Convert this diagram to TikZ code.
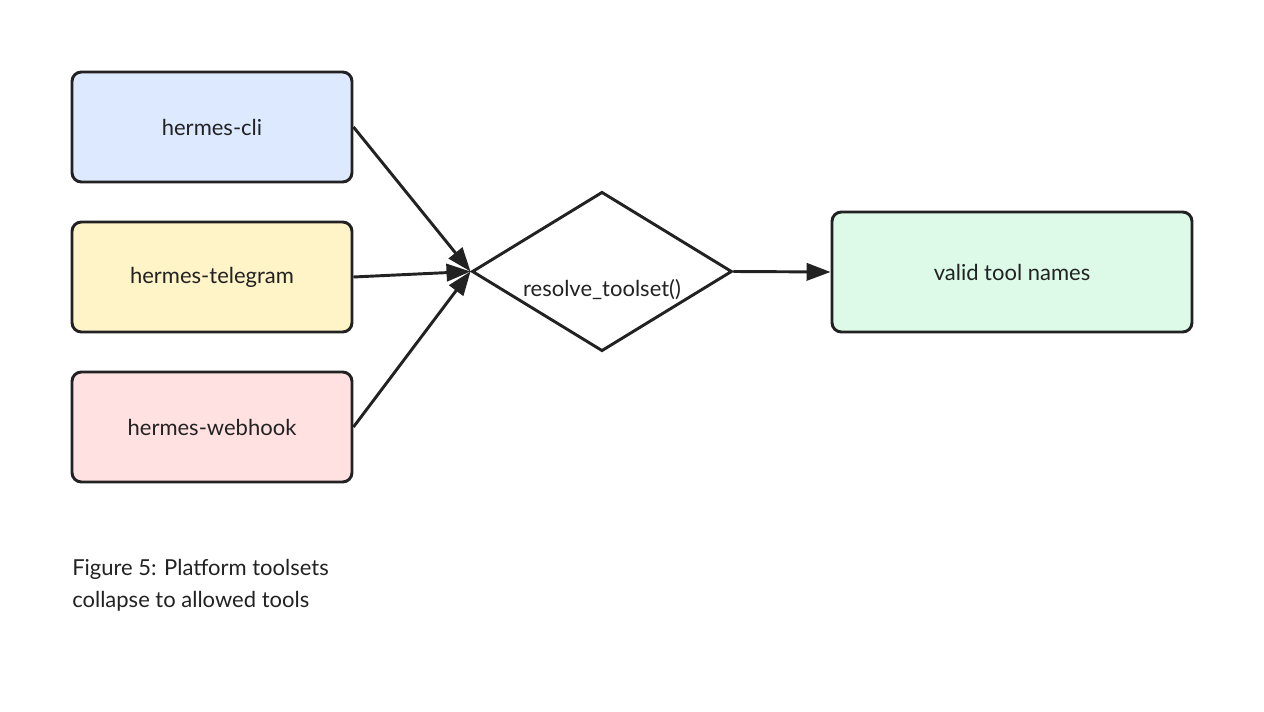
\documentclass[tikz,border=0pt]{standalone}
\usepackage{fontspec}
\setmainfont{Lato}
\usetikzlibrary{shapes.geometric,arrows.meta}
\definecolor{ink}{HTML}{222222}
\definecolor{cliblue}{HTML}{DCE9FF}
\definecolor{tgyellow}{HTML}{FFF3C8}
\definecolor{whpink}{HTML}{FFE1E2}
\definecolor{okgreen}{HTML}{DCFAE7}
\begin{document}
\begin{tikzpicture}[x=0.75pt,y=-0.75pt,
  srcbox/.style={draw=ink,line width=2.2pt,rounded corners=7pt,minimum width=210pt,minimum height=82.5pt,inner sep=0pt,font=\fontsize{16.5}{20}\selectfont,text=ink},
  flow/.style={draw=ink,line width=2.2pt,-{Triangle[length=18pt,width=13pt]}},
  lbl/.style={font=\fontsize{16.5}{24}\selectfont,text=ink}]
\useasboundingbox[fill=white] (0,0) rectangle (1264,712);
\node[srcbox,fill=cliblue] (cli) at (212,127) {hermes-cli};
\node[srcbox,fill=tgyellow] (tg) at (212,277) {hermes-telegram};
\node[srcbox,fill=whpink] (wh) at (212,427) {hermes-webhook};
\node[diamond,draw=ink,line width=2.2pt,inner sep=0pt,minimum width=195pt,minimum height=119.5pt,aspect=1.63] (res) at (602,271.5) {};
\node[lbl] (reslbl) at (602,290) {resolve\_toolset()};
\node[srcbox,fill=okgreen,minimum width=270pt,minimum height=90pt] (ok) at (1012,272) {valid tool names};
\draw[flow] (cli.east) -- (res.west);
\draw[flow] (tg.east) -- (res.west);
\draw[flow] (wh.east) -- (res.west);
\draw[flow] (res.east) -- (ok.west);
\node[lbl,anchor=north west,align=left,inner sep=0pt] (cap) at (72,559) {Figure 5: Platform toolsets\\collapse to allowed tools};
\end{tikzpicture}
\end{document}
